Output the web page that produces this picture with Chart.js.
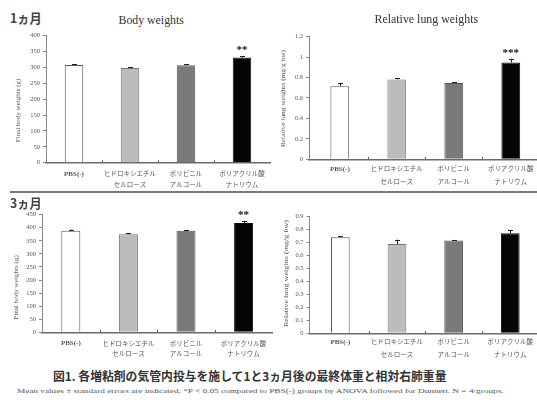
<!DOCTYPE html>
<html>
<head>
<meta charset="utf-8">
<script src="https://cdn.jsdelivr.net/npm/chart.js@4/dist/chart.umd.min.js"></script>
<style>
  html, body { margin: 0; padding: 0; background: #fff; }
  body { width: 537px; height: 403px; overflow: hidden; position: relative; }
  canvas { position: absolute; }
  .t { position: absolute; white-space: nowrap; line-height: 1; transform-origin: center center; }
  .serif { font-family: "Liberation Serif", "DejaVu Serif", serif; }
  .jp { font-family: "Noto Sans CJK JP", "Noto Sans", sans-serif; }
  #rule { position: absolute; left: 10px; top: 191px; width: 527px; height: 1.5px; background: #7a7a7a; }
</style>
</head>
<body>
<div id="rule"></div>
<canvas id="c1" width="272" height="162" style="left:0px;top:28px"></canvas>
<canvas id="c2" width="272" height="162" style="left:268px;top:28px"></canvas>
<canvas id="c3" width="274" height="155" style="left:0px;top:205px"></canvas>
<canvas id="c4" width="272" height="155" style="left:268px;top:205px"></canvas>
<script>
// Treatment groups and bar fills
const groups = ['PBS(-)', ['ヒドロキシエチル', 'セルロース'], ['ポリビニル', 'アルコール'], ['ポリアクリル酸', 'ナトリウム']];
const barFills = ['#ffffff', '#bcbcbc', '#7a7a7a', '#050505'];

// 1 month: final body weights (g)
const bodyWeight1m = [308, 298, 307, 331];
const bodyWeight1mErr = [3, 3, 4, 4];
const bodyWeight1mSig = ['', '', '', '**'];
const bodyWeightTicks1m = [0, 50, 100, 150, 200, 250, 300, 350, 400];

// 1 month: relative lung weights (mg/g bw)
const lungWeight1m = [0.714, 0.782, 0.747, 0.948];
const lungWeight1mErr = [0.03, 0.01, 0.01, 0.036];
const lungWeight1mSig = ['', '', '', '***'];
const lungWeightTicks1m = [0, 0.2, 0.4, 0.6, 0.8, 1, 1.2];

// 3 months: final body weights (g)
const bodyWeight3m = [389, 375, 389, 418];
const bodyWeight3mErr = [4, 4, 3, 6];
const bodyWeight3mSig = ['', '', '', '**'];
const bodyWeightTicks3m = [0, 50, 100, 150, 200, 250, 300, 350, 400, 450];

// 3 months: relative lung weights (mg/g bw)
const lungWeight3m = [0.738, 0.687, 0.713, 0.769];
const lungWeight3mErr = [0.008, 0.033, 0.005, 0.026];
const lungWeight3mSig = ['', '', '', ''];
const lungWeightTicks3m = [0, 0.1, 0.2, 0.3, 0.4, 0.5, 0.6, 0.7, 0.8, 0.9];

const SERIF = '"Liberation Serif", "DejaVu Serif", serif';
const JP = '"Noto Sans CJK JP", "Noto Sans", sans-serif';

// Error bars (upper only), significance marks and category separators on the x axis
const panelMarks = {
  id: 'panelMarks',
  afterLayout(chart, args, o) {
    if (o.inset) {
      const x = chart.scales.x;
      x._startPixel += o.inset;
      x._length -= o.inset;
    }
  },
  afterDatasetsDraw(chart, args, o) {
    const { ctx, scales: { x, y } } = chart;
    const meta = chart.getDatasetMeta(0);
    ctx.save();
    ctx.strokeStyle = '#222';
    ctx.lineWidth = 1;
    o.values.forEach((v, i) => {
      const bar = meta.data[i];
      const px = Math.round(bar.x) + 0.5;
      const top = y.getPixelForValue(v + o.errors[i]);
      const base = y.getPixelForValue(v);
      ctx.beginPath();
      ctx.moveTo(px, base);
      ctx.lineTo(px, top);
      ctx.moveTo(px - 2.5, Math.round(top) + 0.5);
      ctx.lineTo(px + 2.5, Math.round(top) + 0.5);
      ctx.stroke();
      if (o.marks[i]) {
        const size = 11;
        ctx.fillStyle = '#111';
        ctx.font = 'bold ' + size + 'px ' + SERIF;
        ctx.textAlign = 'center';
        ctx.textBaseline = 'alphabetic';
        ctx.fillText(o.marks[i], bar.x, top - 8 + size * 0.45);
      }
    });
    // small marks between categories, sitting on the axis line
    ctx.strokeStyle = '#666';
    const axisY = chart.chartArea.bottom;
    for (let i = 0; i < o.values.length - 1; i++) {
      const bx = Math.round((x.getPixelForValue(i) + x.getPixelForValue(i + 1)) / 2) + 0.5;
      ctx.beginPath();
      ctx.moveTo(bx, axisY - 2.5);
      ctx.lineTo(bx, axisY);
      ctx.stroke();
    }
    ctx.restore();
  }
};

function panel(id, p) {
  return new Chart(document.getElementById(id), {
    type: 'bar',
    data: {
      labels: groups,
      datasets: [{
        data: p.values,
        backgroundColor: barFills,
        borderColor: ['#555', '#777', '#555', '#111'],
        borderWidth: 1,
        borderSkipped: 'bottom',
        barPercentage: p.barPct,
        categoryPercentage: 1
      }]
    },
    options: {
      responsive: false,
      animation: false,
      events: [],
      layout: { autoPadding: false, padding: { top: p.padTop, right: p.padRight, left: 0, bottom: 0 } },
      plugins: {
        legend: { display: false },
        tooltip: { enabled: false },
        title: { display: false },
        panelMarks: { values: p.values, errors: p.errors, marks: p.marks, inset: p.inset || 0 }
      },
      scales: {
        x: {
          afterFit(s) { s.height = p.xH; },
          border: { color: '#6a6a6a', width: 1.5 },
          grid: { display: true, drawOnChartArea: false, drawTicks: false },
          ticks: {
            autoSkip: false,
            maxRotation: 0,
            padding: p.xPad,
            color: '#555',
            font: (c) => c.index === 0
              ? { family: SERIF, size: 7, weight: 'bold', lineHeight: p.lineH + 'px' }
              : { family: JP, size: 6.5, lineHeight: p.lineH + 'px' }
          }
        },
        y: {
          min: 0,
          max: p.ticks[p.ticks.length - 1],
          afterFit(s) { s.width = p.yW; },
          afterBuildTicks(s) { s.ticks = p.ticks.map(v => ({ value: v })); },
          border: { color: '#888', width: 1 },
          grid: { drawOnChartArea: false, drawTicks: true, tickLength: 3, color: '#888' },
          ticks: {
            padding: 3,
            color: '#555',
            font: { family: SERIF, size: 6.5 },
            callback: (v) => String(v)
          }
        }
      }
    },
    plugins: [panelMarks]
  });
}

panel('c1', { values: bodyWeight1m, errors: bodyWeight1mErr, marks: bodyWeight1mSig, ticks: bodyWeightTicks1m,
  yW: 46, xH: 27.3, padTop: 7.7, padRight: 2, xPad: 6, lineH: 10.5, barPct: 0.33 });
panel('c2', { values: lungWeight1m, errors: lungWeight1mErr, marks: lungWeight1mSig, ticks: lungWeightTicks1m,
  yW: 41, xH: 30.7, padTop: 8.7, padRight: 0.7, xPad: 3.3, lineH: 12.7, inset: 2.3, barPct: 0.33 });
panel('c3', { values: bodyWeight3m, errors: bodyWeight3mErr, marks: bodyWeight3mSig, ticks: bodyWeightTicks3m,
  yW: 42, xH: 27.7, padTop: 9.7, padRight: 1.6, xPad: 5.8, lineH: 10.4, barPct: 0.33 });
panel('c4', { values: lungWeight3m, errors: lungWeight3mErr, marks: lungWeight3mSig, ticks: lungWeightTicks3m,
  yW: 41.5, xH: 26.7, padTop: 11.3, padRight: 1.4, xPad: 1.9, lineH: 13, inset: 2.5, barPct: 0.33 });

// Headings, axis titles and caption as positioned text
function text(str, cx, cy, cls, css, width, rotate) {
  const d = document.createElement('div');
  d.className = 't ' + cls;
  d.textContent = str;
  Object.assign(d.style, css);
  document.body.appendChild(d);
  const w = d.offsetWidth, h = d.offsetHeight;
  const sx = width ? width / w : 1;
  d.style.left = (cx - w / 2) + 'px';
  d.style.top = (cy - h / 2) + 'px';
  d.style.transform = (rotate ? 'rotate(' + rotate + 'deg) ' : '') + 'scaleX(' + sx + ')';
}

text('1ヵ月', 26, 17, 'jp', { fontSize: '13px', fontWeight: 'bold', color: '#444' }, 32);
text('3ヵ月', 26, 202, 'jp', { fontSize: '13px', fontWeight: 'bold', color: '#444' }, 32);
text('Body weights', 151, 20, 'serif', { fontSize: '12px', color: '#333' }, 65);
text('Relative lung weights', 426, 19, 'serif', { fontSize: '12px', color: '#333' }, 104);

text('Final body weights (g)', 19, 110, 'serif', { fontSize: '7px', color: '#555' }, 64, -90);
text('Relative lung weights (mg/g bw)', 283, 98.5, 'serif', { fontSize: '7px', color: '#555' }, 97, -90);
text('Final body weights (g)', 16.7, 287, 'serif', { fontSize: '7px', color: '#555' }, 65, -90);
text('Relative lung weights (mg/g bw)', 286, 273, 'serif', { fontSize: '7px', color: '#555' }, 107, -90);

text('図1. 各増粘剤の気管内投与を施して1と3ヵ月後の最終体重と相対右肺重量', 250, 376, 'jp',
  { fontSize: '12px', fontWeight: 'bold', color: '#333' }, 394);
text('Mean values \u00b1 standard errors are indicated. *P < 0.05 compared to PBS(-) groups by ANOVA followed for Dunnett. N = 4/groups.',
  260, 391, 'serif', { fontSize: '7px', color: '#555' }, 486);
</script>
</body>
</html>
